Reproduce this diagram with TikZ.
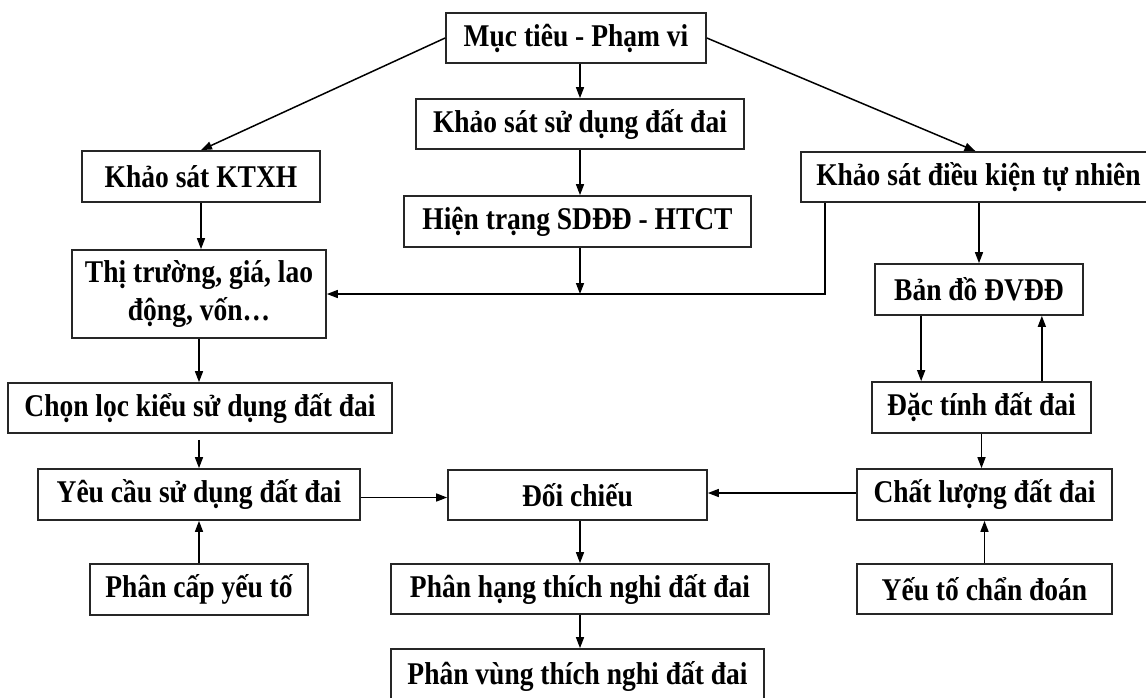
\documentclass[tikz,border=0pt]{standalone}
\usepackage{fontspec}
\usepackage{graphicx}
\setmainfont{Liberation Serif}
\usetikzlibrary{arrows.meta,calc}
\newcommand{\tx}[1]{\scalebox{1}[1.15]{#1}}
\begin{document}
\begin{tikzpicture}[x=1pt,y=-1pt,
  box/.style={draw=black!85,line width=1.7pt,rectangle,inner sep=0pt,fill=white,
    font=\fontsize{27.5}{33}\selectfont\bfseries},
  arr/.style={draw=black,line width=1.5pt,-{Triangle[length=11pt,width=8pt]}}]
\useasboundingbox (0,0) rectangle (1146,697);
\fill[white] (0,0) rectangle (1146,697);
% nodes
\node[box,minimum width=260pt,minimum height=50pt] (muc) at (576,38) {\tx{Mục tiêu - Phạm vi}};
\node[box,minimum width=328pt,minimum height=50pt] (ksd) at (580,124) {\tx{Khảo sát sử dụng đất đai}};
\node[box,minimum width=347pt,minimum height=51pt] (htr) at (577.5,221.5) {\tx{Hiện trạng SDĐĐ - HTCT}};
\node[box,minimum width=238pt,minimum height=51pt] (ktxh) at (201,176.5) {\tx{Khảo sát KTXH}};
\node[box,minimum width=355pt,minimum height=50pt] (dktn) at (978.5,177) {\tx{Khảo sát điều kiện tự nhiên}};
\node[box,minimum width=254pt,minimum height=88pt] (tt) at (199,294) {\tx{\begin{tabular}{@{}c@{}}Thị trường, giá, lao\\[0pt]động, vốn…\end{tabular}}};
\node[box,minimum width=208pt,minimum height=51pt] (bd) at (979,289.5) {\tx{Bản đồ ĐVĐĐ}};
\node[box,minimum width=384pt,minimum height=50pt] (chon) at (200,408) {\tx{Chọn lọc kiểu sử dụng đất đai}};
\node[box,minimum width=219pt,minimum height=51pt] (dt) at (981.5,407.5) {\tx{Đặc tính đất đai}};
\node[box,minimum width=322pt,minimum height=51pt] (yc) at (199,494.5) {\tx{Yêu cầu sử dụng đất đai}};
\node[box,minimum width=259pt,minimum height=50pt] (dc) at (577.5,495) {\tx{Đối chiếu}};
\node[box,minimum width=255pt,minimum height=51pt] (cl) at (984.5,494.5) {\tx{Chất lượng đất đai}};
\node[box,minimum width=218pt,minimum height=51pt] (pc) at (199,589.5) {\tx{Phân cấp yếu tố}};
\node[box,minimum width=378pt,minimum height=50pt] (ph) at (580,589) {\tx{Phân hạng thích nghi đất đai}};
\node[box,minimum width=255pt,minimum height=50pt] (cd) at (984.5,589) {\tx{Yếu tố chẩn đoán}};
\node[box,minimum width=373pt,minimum height=54pt] (pv) at (577.5,676) {\tx{Phân vùng thích nghi đất đai}};
\coordinate (j1) at (580,294);
% connectors
\draw[arr] (muc.west) -- (ktxh.north);
\draw[arr] (muc.east) -- ([xshift=-3pt]dktn.north);
\draw[arr] (ksd.north |- muc.south) -- (ksd.north);
\draw[arr] (ksd.south) -- (ksd.south |- htr.north);
\draw[arr] (ksd.south |- htr.south) -- (j1);
\draw[arr] ([xshift=25pt]dktn.south west) |- (tt.east);
\draw[arr] (bd.north |- dktn.south) -- (bd.north);
\draw[arr] (ktxh.south) -- (ktxh.south |- tt.north);
\draw[arr] (tt.south) -- (tt.south |- chon.north);
\draw[arr,shorten <=6pt] (tt.south |- chon.south) -- (tt.south |- yc.north);
\draw[arr] (pc.north) -- (pc.north |- yc.south);
\draw[arr] ([yshift=-3pt]yc.east) -- ([yshift=-3pt]yc.east -| dc.west);
\draw[arr] ([yshift=1.5pt]cl.west) -- ([yshift=1.5pt]cl.west -| dc.east);
\draw[arr] (ph.north |- dc.south) -- (ph.north);
\draw[arr] (ph.south) -- (ph.south |- pv.north);
\draw[arr] ([xshift=47pt]bd.south west) -- ([xshift=47pt]bd.south west |- dt.north);
\draw[arr] ([xshift=-42pt]bd.south east |- dt.north) -- ([xshift=-42pt]bd.south east);
\draw[arr] (dt.south) -- (dt.south |- cl.north);
\draw[arr] (cl.south |- cd.north) -- (cl.south);
\end{tikzpicture}
\end{document}
